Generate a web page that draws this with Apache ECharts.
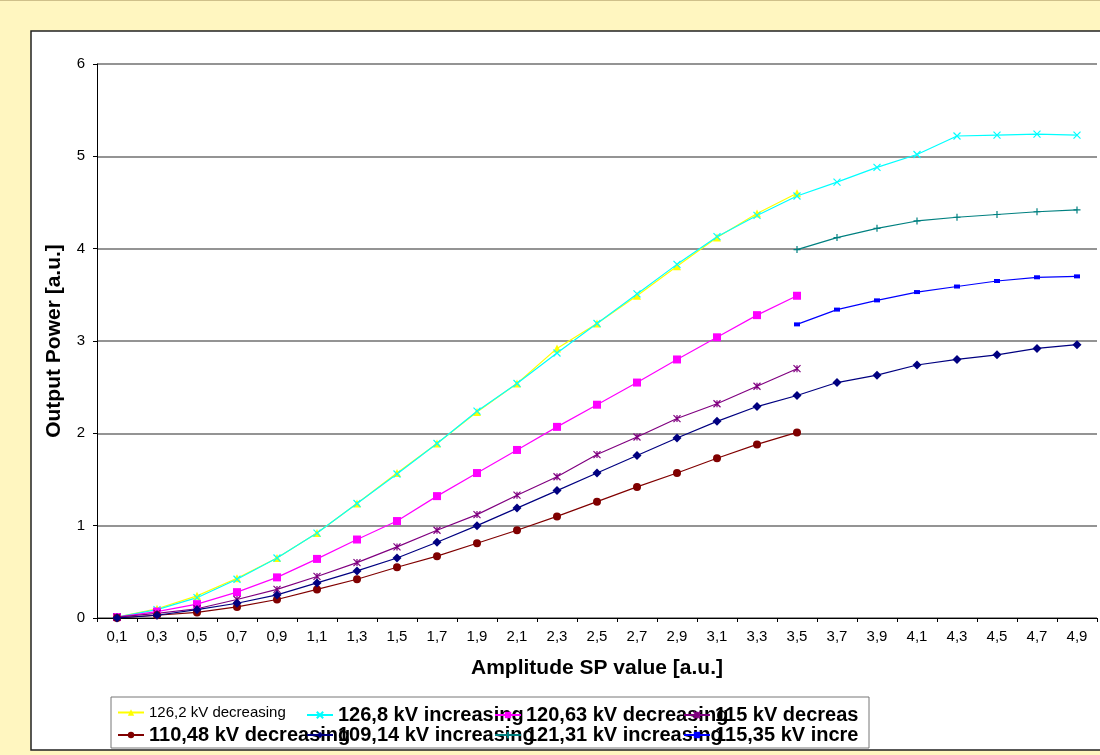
<!doctype html>
<html>

<head>
  <meta charset="utf-8">
  <title>Output Power</title>
  <script src="https://cdn.jsdelivr.net/npm/echarts@6/dist/echarts.min.js"></script>
  <style>
    html,
    body {
      width: 100%;
      height: 100%;
      margin: 0;
      padding: 0;
      background-color: #fff6c0;
    }

    #main {
      width: 1100px;
      height: 755px;
    }
  </style>
</head>

<body>
  <div id="main"></div>
</body>

<script type="text/javascript">
  // categories (amplitude SP value)
  var amplitude = ['0,1', '0,3', '0,5', '0,7', '0,9', '1,1', '1,3', '1,5', '1,7', '1,9', '2,1', '2,3', '2,5',
    '2,7', '2,9', '3,1', '3,3', '3,5', '3,7', '3,9', '4,1', '4,3', '4,5', '4,7', '4,9'];
  var powerTicks = [0, 1, 2, 3, 4, 5, 6];

  // series values, null where there is no measurement
  var kv1262dec = [0.01, 0.1, 0.24, 0.43, 0.65, 0.92, 1.24, 1.57, 1.89, 2.23, 2.54, 2.92, 3.19, 3.49, 3.81, 4.12, 4.38, 4.6,
    null, null, null, null, null, null, null];
  var kv1268inc = [0.01, 0.09, 0.22, 0.42, 0.65, 0.92, 1.24, 1.56, 1.89, 2.24, 2.54, 2.87, 3.19, 3.51, 3.83, 4.13, 4.36, 4.57,
    4.72, 4.88, 5.02, 5.22, 5.23, 5.24, 5.23];
  var kv12063dec = [0.01, 0.07, 0.15, 0.28, 0.44, 0.64, 0.85, 1.05, 1.32, 1.57, 1.82, 2.07, 2.31, 2.55, 2.8, 3.04, 3.28, 3.49,
    null, null, null, null, null, null, null];
  var kv115dec = [0.01, 0.05, 0.1, 0.2, 0.31, 0.45, 0.6, 0.77, 0.95, 1.12, 1.33, 1.53, 1.77, 1.96, 2.16, 2.32, 2.51, 2.7,
    null, null, null, null, null, null, null];
  var kv11048dec = [0, 0.03, 0.06, 0.12, 0.2, 0.31, 0.42, 0.55, 0.67, 0.81, 0.95, 1.1, 1.26, 1.42, 1.57, 1.73, 1.88, 2.01,
    null, null, null, null, null, null, null];
  var kv10914inc = [0, 0.03, 0.09, 0.16, 0.25, 0.38, 0.51, 0.65, 0.82, 1.0, 1.19, 1.38, 1.57, 1.76, 1.95, 2.13, 2.29, 2.41,
    2.55, 2.63, 2.74, 2.8, 2.85, 2.92, 2.96];
  var kv12131inc = [null, null, null, null, null, null, null, null, null, null, null, null, null, null, null, null, null,
    3.99, 4.12, 4.22, 4.3, 4.34, 4.37, 4.4, 4.42];
  var kv11535inc = [null, null, null, null, null, null, null, null, null, null, null, null, null, null, null, null, null,
    3.18, 3.34, 3.44, 3.53, 3.59, 3.65, 3.69, 3.7];

  var names = ['126,2 kV decreasing', '126,8 kV increasing', '120,63 kV decreasing', '115 kV decreasing',
    '110,48 kV decreasing', '109,14 kV increasing', '121,31 kV increasing', '115,35 kV increasing'];

  var xMark = 'path://M0 0L10 10M10 0L0 10';
  var starMark = 'path://M0 0L10 10M10 0L0 10M5 0L5 10';
  var plusMark = 'path://M5 0L5 10M0 5L10 5';

  function mkSeries(name, data, color, symbol, size, stroke) {
    var s = {
      name: name,
      type: 'line',
      data: data,
      symbol: symbol,
      symbolSize: size,
      showAllSymbol: true,
      connectNulls: false,
      lineStyle: { color: color, width: 1.2 },
      itemStyle: { color: color },
      emphasis: { disabled: true },
      animation: false
    }
    if (stroke) {
      s.itemStyle.borderColor = color
      s.itemStyle.borderWidth = 1.2
    }
    return s
  }

  // legend: one small legend per cell, like the excel layout
  var legCols = [117, 306, 494, 683];
  var legRows = [705, 725];
  var legends = [];
  for (var i = 0; i < names.length; i++) {
    var col = i % 4, row = Math.floor(i / 4);
    var first = i == 0;
    legends.push({
      data: [names[i]],
      left: legCols[col],
      top: legRows[row],
      padding: 0,
      itemWidth: 26,
      itemHeight: 8,
      itemGap: 5,
      selectedMode: false,
      textStyle: {
        fontFamily: 'Liberation Sans, Arial',
        fontSize: first ? 15 : 20,
        fontWeight: first ? 'normal' : 'bold',
        color: '#000',
        width: col == 3 ? 146 : null,
        overflow: col == 3 ? 'truncate' : 'none',
        ellipsis: ''
      }
    })
  }

  var option = {
    backgroundColor: '#fff6c0',
    animation: false,
    textStyle: { fontFamily: 'Liberation Sans, Arial' },
    graphic: [
      {
        type: 'rect', z: -10, silent: true,
        shape: { x: 31, y: 31, width: 1100, height: 719 },
        style: { fill: '#fff', stroke: '#222', lineWidth: 1.5 }
      },
      {
        type: 'rect', z: -5, silent: true,
        shape: { x: 111, y: 697, width: 758, height: 51 },
        style: { fill: '#fff', stroke: '#777', lineWidth: 1 }
      },
      {
        type: 'line', z: -5, silent: true,
        shape: { x1: 0, y1: 0.5, x2: 1100, y2: 0.5 },
        style: { stroke: '#cfc08a', lineWidth: 1 }
      }
    ],
    legend: legends,
    grid: {
      left: 97,
      top: 64,
      width: 1000,
      height: 554,
      containLabel: false
    },
    xAxis: {
      type: 'category',
      data: amplitude,
      boundaryGap: true,
      name: 'Amplitude SP value [a.u.]',
      nameLocation: 'middle',
      nameGap: 40,
      nameTextStyle: { fontSize: 21, fontWeight: 'bold', color: '#000' },
      axisLine: { lineStyle: { color: '#000', width: 1 } },
      axisTick: { show: true, length: 4, interval: 0, lineStyle: { color: '#000' } },
      axisLabel: { interval: 0, fontSize: 15, color: '#000', margin: 11 },
      splitLine: { show: false }
    },
    yAxis: {
      type: 'value',
      min: powerTicks[0],
      max: powerTicks[powerTicks.length - 1],
      interval: 1,
      name: 'Output Power [a.u.]',
      nameLocation: 'middle',
      nameGap: 32,
      nameTextStyle: { fontSize: 21, fontWeight: 'bold', color: '#000' },
      axisLine: { show: true, lineStyle: { color: '#000', width: 1 } },
      axisTick: { show: true, length: 4, lineStyle: { color: '#000' } },
      axisLabel: { fontSize: 15, color: '#000', margin: 12 },
      splitLine: { show: true, lineStyle: { color: '#707070', width: 1.5 } }
    },
    series: [
      mkSeries(names[0], kv1262dec, '#ffff00', 'triangle', 8, false),
      mkSeries(names[1], kv1268inc, '#00ffff', xMark, 7, true),
      mkSeries(names[2], kv12063dec, '#ff00ff', 'rect', 8, false),
      mkSeries(names[3], kv115dec, '#800080', starMark, 7, true),
      mkSeries(names[4], kv11048dec, '#800000', 'circle', 8, false),
      mkSeries(names[5], kv10914inc, '#000080', 'diamond', 9, false),
      mkSeries(names[6], kv12131inc, '#008080', plusMark, 7, true),
      mkSeries(names[7], kv11535inc, '#0000ff', 'rect', [6, 4], false)
    ]
  }

  var myChart = echarts.init(document.getElementById('main'));
  myChart.setOption(option);
</script>

</html>
